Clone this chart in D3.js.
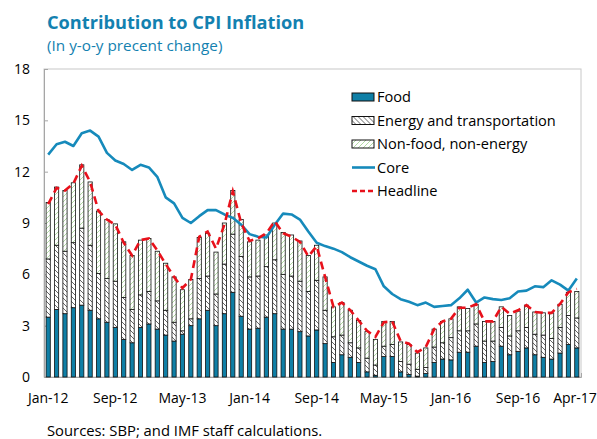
<!DOCTYPE html>
<html>
<head>
<meta charset="utf-8">
<script src="https://cdn.jsdelivr.net/npm/d3@7"></script>
<style>
  body { margin: 0; background: #fff; }
  text { font-family: "Open Sans", "Noto Sans", sans-serif; }
</style>
</head>
<body>
<div id="chart"></div>
<script>
// monthly, Jan-12 .. Apr-17
const startMonth = new Date(2012, 0, 1);
const nMonths = 64;
const months = d3.range(nMonths).map(i => d3.timeFormat("%b-%y")(d3.timeMonth.offset(startMonth, i)));

const food = [3.5, 3.95, 3.7, 4.05, 4.2, 3.9, 3.4, 3.2, 2.9, 2.2, 2.0, 2.9, 3.1, 2.8, 2.45, 2.1,
  2.5, 3.0, 3.4, 3.9, 3.0, 3.7, 4.95, 3.55, 2.8, 2.85, 3.5, 3.7, 2.8, 2.8, 2.65, 2.4,
  2.75, 1.95, 0.85, 1.3, 1.15, 0.85, 0.3, 0.1, 1.2, 1.2, 0.3, 0.15, 0.05, 0.2, 0.85, 1.05,
  1.0, 1.45, 1.45, 1.8, 0.85, 0.9, 1.8, 1.3, 1.5, 1.7, 1.3, 1.15, 1.05, 1.4, 1.9, 1.7];
const energy = [3.4, 3.75, 3.65, 3.8, 4.5, 3.8, 2.65, 2.55, 2.7, 2.45, 1.95, 1.9, 1.9, 1.65, 1.45, 1.1,
  0.2, 0.4, 2.35, 2.0, 1.85, 2.9, 3.4, 3.5, 3.05, 3.05, 2.95, 3.15, 3.2, 3.1, 2.95, 2.6,
  2.9, 1.95, 1.5, 1.15, 0.85, 0.85, 0.8, 0.6, 0.6, 0.7, 0.6, 0.6, 0.4, 0.35, 0.9, 0.95,
  1.3, 1.25, 1.25, 1.3, 1.25, 1.2, 1.1, 1.1, 1.2, 1.2, 1.2, 1.3, 1.2, 1.5, 1.7, 1.75];
const nonFood = [3.3, 3.4, 3.55, 3.5, 3.7, 3.7, 3.65, 3.45, 3.35, 3.25, 3.15, 3.2, 3.1, 2.9, 2.75, 2.65,
  2.4, 2.3, 2.4, 2.5, 2.45, 2.4, 2.55, 2.15, 2.05, 2.1, 1.85, 2.15, 2.45, 2.4, 2.35, 2.1,
  2.05, 1.95, 1.75, 1.9, 1.9, 1.6, 1.55, 1.5, 1.45, 1.35, 1.15, 1.15, 0.95, 1.15, 1.05, 1.25,
  1.1, 1.4, 1.3, 1.15, 1.15, 1.15, 1.2, 1.2, 1.15, 1.3, 1.3, 1.3, 1.5, 1.35, 1.35, 1.55];
const core = [13.0, 13.6, 13.75, 13.5, 14.25, 14.4, 14.05, 13.1, 12.65, 12.45, 12.1, 12.4, 12.25, 11.7, 10.5, 10.15,
  9.3, 9.0, 9.4, 9.75, 9.75, 9.5, 9.3, 8.9, 8.35, 8.2, 8.15, 8.9, 9.55, 9.5, 9.2, 8.5,
  7.85, 7.65, 7.5, 7.3, 7.0, 6.75, 6.5, 6.3, 5.3, 4.85, 4.55, 4.4, 4.2, 4.35, 4.1, 4.15,
  4.2, 4.6, 5.1, 4.35, 4.65, 4.55, 4.5, 4.6, 5.0, 5.05, 5.3, 5.25, 5.65, 5.4, 5.05, 5.75];
const headline = [10.1, 11.05, 10.9, 11.3, 12.35, 11.4, 9.7, 9.2, 8.9, 7.85, 7.1, 8.0, 8.1, 7.4, 6.6, 5.85,
  5.2, 5.7, 8.2, 8.5, 7.5, 8.9, 10.85, 9.0, 7.95, 8.1, 8.4, 9.1, 8.4, 8.2, 7.9, 7.05,
  7.65, 5.85, 4.1, 4.35, 3.9, 3.3, 2.7, 2.35, 3.2, 3.25, 2.1, 1.95, 1.45, 1.75, 2.8, 3.25,
  3.4, 4.05, 4.05, 4.25, 3.25, 3.25, 4.1, 3.7, 3.9, 4.2, 3.8, 3.75, 3.75, 4.27, 4.95, 5.15];

const yTicks = [0, 3, 6, 9, 12, 15, 18];
const xTickLabels = ["Jan-12", "Sep-12", "May-13", "Jan-14", "Sep-14", "May-15", "Jan-16", "Sep-16", "Apr-17"];
const seriesNames = ["Food", "Energy and transportation", "Non-food, non-energy"];

const width = 597, height = 439;
const margin = { top: 69, right: 16, bottom: 62, left: 44 };
const titleColor = "#1381b0";

const svg = d3.select("#chart").append("svg").attr("width", width).attr("height", height);

const defs = svg.append("defs");
const pEnergy = defs.append("pattern").attr("id", "hatchEnergy")
  .attr("patternUnits", "userSpaceOnUse").attr("width", 5).attr("height", 5);
pEnergy.append("rect").attr("width", 5).attr("height", 5).attr("fill", "#fff");
pEnergy.append("path").attr("d", "M-1,-1L6,6M-1,4L1,6M4,-1L6,1").attr("stroke", "#555").attr("stroke-width", 0.9);
const pNon = defs.append("pattern").attr("id", "hatchNon")
  .attr("patternUnits", "userSpaceOnUse").attr("width", 5).attr("height", 5);
pNon.append("rect").attr("width", 5).attr("height", 5).attr("fill", "#fff");
pNon.append("path").attr("d", "M-1,6L6,-1M-1,1L1,-1M4,6L6,4").attr("stroke", "#a8d698").attr("stroke-width", 0.9);

const fills = ["#0f7fa6", "url(#hatchEnergy)", "url(#hatchNon)"];

const x = d3.scaleBand().domain(months).range([margin.left, width - margin.right]).paddingInner(0.5).paddingOuter(0.25);
const y = d3.scaleLinear().domain([0, 18]).range([height - margin.bottom, margin.top]);

// frame
svg.append("rect")
  .attr("x", margin.left).attr("y", margin.top)
  .attr("width", width - margin.right - margin.left).attr("height", y(0) - margin.top)
  .attr("fill", "none").attr("stroke", "#c8c8c8").attr("stroke-width", 1);

// y axis
const yAxis = svg.append("g").attr("transform", `translate(${margin.left},0)`)
  .call(d3.axisLeft(y).tickValues(yTicks).tickSize(-4).tickPadding(14));
yAxis.select(".domain").attr("stroke", "#a6a6a6");
yAxis.selectAll(".tick line").attr("stroke", "#a6a6a6");
yAxis.selectAll("text").attr("font-size", 14).attr("fill", "#000");

// x axis
const xAxis = svg.append("g").attr("transform", `translate(0,${y(0)})`)
  .call(d3.axisBottom(x).tickValues(xTickLabels).tickSize(-4).tickPadding(16));
xAxis.select(".domain").attr("stroke", "#a6a6a6");
xAxis.selectAll(".tick line").attr("stroke", "#a6a6a6");
xAxis.selectAll("text").attr("font-size", 14).attr("fill", "#000");
xAxis.selectAll(".tick").filter(d => d === "Apr-17").select("text")
  .attr("text-anchor", "end").attr("x", 20);

// stacked bars
const table = months.map((m, i) => ({ month: m, s0: food[i], s1: energy[i], s2: nonFood[i] }));
const stack = d3.stack().keys(["s0", "s1", "s2"])(table);
svg.append("g").selectAll("g").data(stack).join("g")
  .attr("fill", (d, i) => fills[i])
  .selectAll("rect").data(d => d).join("rect")
  .attr("x", d => x(d.data.month))
  .attr("width", x.bandwidth())
  .attr("y", d => y(d[1]))
  .attr("height", d => Math.max(0, y(d[0]) - y(d[1])))
  .attr("stroke", "#111").attr("stroke-width", 0.8);

// lines
const cx = (d, i) => x(months[i]) + x.bandwidth() / 2;
const line = d3.line().x(cx).y(d => y(d));
svg.append("path").datum(core).attr("d", line)
  .attr("fill", "none").attr("stroke", "#168abb").attr("stroke-width", 2.6).attr("stroke-linejoin", "round");
svg.append("path").datum(headline).attr("d", line)
  .attr("fill", "none").attr("stroke", "#e8111b").attr("stroke-width", 2.6).attr("stroke-dasharray", "8,5");

// legend
const lg = svg.append("g").attr("transform", "translate(352,97)");
seriesNames.forEach((name, i) => {
  const row = lg.append("g").attr("transform", `translate(0,${i * 23.5})`);
  row.append("rect").attr("x", 0).attr("y", -4).attr("width", 22).attr("height", 8)
    .attr("fill", fills[i]).attr("stroke", "#111").attr("stroke-width", 1);
  row.append("text").attr("x", 25).attr("y", 5).attr("font-size", 14.6).text(name);
});
const rowCore = lg.append("g").attr("transform", `translate(0,${3 * 23.5})`);
rowCore.append("line").attr("x1", 0).attr("x2", 23).attr("stroke", "#168abb").attr("stroke-width", 2.6);
rowCore.append("text").attr("x", 25).attr("y", 5).attr("font-size", 14.6).text("Core");
const rowHead = lg.append("g").attr("transform", `translate(0,${4 * 23.5})`);
rowHead.append("line").attr("x1", 0).attr("x2", 23).attr("stroke", "#e8111b").attr("stroke-width", 2.6).attr("stroke-dasharray", "5,3");
rowHead.append("text").attr("x", 25).attr("y", 5).attr("font-size", 14.6).text("Headline");

// titles
svg.append("text").attr("x", 47).attr("y", 29).attr("font-size", 18.2).attr("font-weight", "bold")
  .attr("fill", titleColor).text("Contribution to CPI Inflation");
svg.append("text").attr("x", 47).attr("y", 51).attr("font-size", 15.3)
  .attr("fill", titleColor).text("(In y-o-y precent change)");
svg.append("text").attr("x", 47).attr("y", 436).attr("font-size", 14.8)
  .attr("fill", "#000").text("Sources: SBP; and IMF staff calculations.");
</script>
</body>
</html>
